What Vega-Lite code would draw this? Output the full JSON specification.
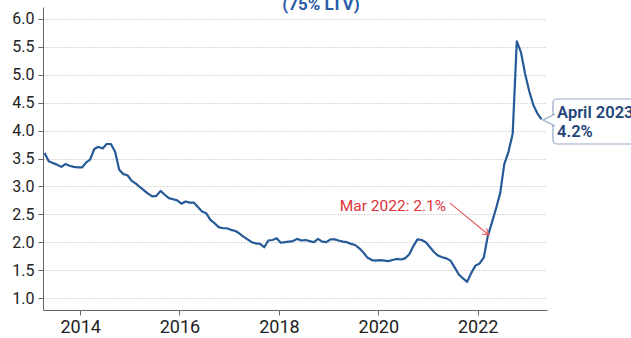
{
  "$schema": "https://vega.github.io/schema/vega-lite/v6.json",
  "width": 504,
  "height": 303,
  "autosize": "none",
  "padding": {"left": 43, "top": 7, "right": 84, "bottom": 28},
  "background": "white",
  "config": {
    "view": {"stroke": null},
    "font": "Roboto"
  },
  "datasets": {
    "rates": [
      {"date": "2013-04-15", "value": 3.60}, {"date": "2013-05-15", "value": 3.45}, {"date": "2013-06-15", "value": 3.42},
      {"date": "2013-07-15", "value": 3.39}, {"date": "2013-08-15", "value": 3.35}, {"date": "2013-09-15", "value": 3.40},
      {"date": "2013-10-15", "value": 3.37}, {"date": "2013-11-15", "value": 3.35}, {"date": "2013-12-15", "value": 3.34},
      {"date": "2014-01-15", "value": 3.34}, {"date": "2014-02-15", "value": 3.43}, {"date": "2014-03-15", "value": 3.48},
      {"date": "2014-04-15", "value": 3.67}, {"date": "2014-05-15", "value": 3.71}, {"date": "2014-06-15", "value": 3.68},
      {"date": "2014-07-15", "value": 3.76}, {"date": "2014-08-15", "value": 3.76}, {"date": "2014-09-15", "value": 3.62},
      {"date": "2014-10-15", "value": 3.30}, {"date": "2014-11-15", "value": 3.22}, {"date": "2014-12-15", "value": 3.20},
      {"date": "2015-01-15", "value": 3.10}, {"date": "2015-02-15", "value": 3.05}, {"date": "2015-03-15", "value": 2.99},
      {"date": "2015-04-15", "value": 2.93}, {"date": "2015-05-15", "value": 2.87}, {"date": "2015-06-15", "value": 2.82},
      {"date": "2015-07-15", "value": 2.83}, {"date": "2015-08-15", "value": 2.92}, {"date": "2015-09-15", "value": 2.85},
      {"date": "2015-10-15", "value": 2.79}, {"date": "2015-11-15", "value": 2.77}, {"date": "2015-12-15", "value": 2.75},
      {"date": "2016-01-15", "value": 2.69}, {"date": "2016-02-15", "value": 2.73}, {"date": "2016-03-15", "value": 2.71},
      {"date": "2016-04-15", "value": 2.71}, {"date": "2016-05-15", "value": 2.63}, {"date": "2016-06-15", "value": 2.55},
      {"date": "2016-07-15", "value": 2.52}, {"date": "2016-08-15", "value": 2.40}, {"date": "2016-09-15", "value": 2.34},
      {"date": "2016-10-15", "value": 2.27}, {"date": "2016-11-15", "value": 2.25}, {"date": "2016-12-15", "value": 2.25},
      {"date": "2017-01-15", "value": 2.22}, {"date": "2017-02-15", "value": 2.20}, {"date": "2017-03-15", "value": 2.16},
      {"date": "2017-04-15", "value": 2.10}, {"date": "2017-05-15", "value": 2.05}, {"date": "2017-06-15", "value": 2.00},
      {"date": "2017-07-15", "value": 1.98}, {"date": "2017-08-15", "value": 1.97}, {"date": "2017-09-15", "value": 1.91},
      {"date": "2017-10-15", "value": 2.03}, {"date": "2017-11-15", "value": 2.04}, {"date": "2017-12-15", "value": 2.07},
      {"date": "2018-01-15", "value": 1.99}, {"date": "2018-02-15", "value": 2.00}, {"date": "2018-03-15", "value": 2.01},
      {"date": "2018-04-15", "value": 2.02}, {"date": "2018-05-15", "value": 2.06}, {"date": "2018-06-15", "value": 2.03},
      {"date": "2018-07-15", "value": 2.04}, {"date": "2018-08-15", "value": 2.02}, {"date": "2018-09-15", "value": 2.00},
      {"date": "2018-10-15", "value": 2.06}, {"date": "2018-11-15", "value": 2.01}, {"date": "2018-12-15", "value": 2.00},
      {"date": "2019-01-15", "value": 2.05}, {"date": "2019-02-15", "value": 2.05}, {"date": "2019-03-15", "value": 2.03},
      {"date": "2019-04-15", "value": 2.01}, {"date": "2019-05-15", "value": 2.00}, {"date": "2019-06-15", "value": 1.97},
      {"date": "2019-07-15", "value": 1.95}, {"date": "2019-08-15", "value": 1.89}, {"date": "2019-09-15", "value": 1.81},
      {"date": "2019-10-15", "value": 1.72}, {"date": "2019-11-15", "value": 1.68}, {"date": "2019-12-15", "value": 1.67},
      {"date": "2020-01-15", "value": 1.68}, {"date": "2020-02-15", "value": 1.67}, {"date": "2020-03-15", "value": 1.66},
      {"date": "2020-04-15", "value": 1.68}, {"date": "2020-05-15", "value": 1.70}, {"date": "2020-06-15", "value": 1.69},
      {"date": "2020-07-15", "value": 1.71}, {"date": "2020-08-15", "value": 1.78}, {"date": "2020-09-15", "value": 1.93},
      {"date": "2020-10-15", "value": 2.05}, {"date": "2020-11-15", "value": 2.04}, {"date": "2020-12-15", "value": 2.00},
      {"date": "2021-01-15", "value": 1.91}, {"date": "2021-02-15", "value": 1.82}, {"date": "2021-03-15", "value": 1.76},
      {"date": "2021-04-15", "value": 1.73}, {"date": "2021-05-15", "value": 1.71}, {"date": "2021-06-15", "value": 1.67},
      {"date": "2021-07-15", "value": 1.55}, {"date": "2021-08-15", "value": 1.42}, {"date": "2021-09-15", "value": 1.35},
      {"date": "2021-10-15", "value": 1.29}, {"date": "2021-11-15", "value": 1.45}, {"date": "2021-12-15", "value": 1.58},
      {"date": "2022-01-15", "value": 1.62}, {"date": "2022-02-15", "value": 1.73}, {"date": "2022-03-15", "value": 2.10},
      {"date": "2022-04-15", "value": 2.35}, {"date": "2022-05-15", "value": 2.60}, {"date": "2022-06-15", "value": 2.88},
      {"date": "2022-07-15", "value": 3.40}, {"date": "2022-08-15", "value": 3.62}, {"date": "2022-09-15", "value": 3.95},
      {"date": "2022-10-15", "value": 5.60}, {"date": "2022-11-15", "value": 5.40}, {"date": "2022-12-15", "value": 5.02},
      {"date": "2023-01-15", "value": 4.70}, {"date": "2023-02-15", "value": 4.45}, {"date": "2023-03-15", "value": 4.31},
      {"date": "2023-04-15", "value": 4.20}
    ],
    "heading": [
      {"date": "2018-11-06", "value": 6.16, "label": "(75% LTV)"}
    ],
    "arrow": [
      {"date": "2021-06-11", "value": 2.70, "date2": "2022-03-24", "value2": 2.13}
    ],
    "arrowhead": [
      {"date": "2022-03-24", "value": 2.13}
    ],
    "redlabel": [
      {"date": "2021-05-14", "value": 2.565, "label": "Mar 2022: 2.1%"}
    ],
    "box": [
      {"date": "2023-07-08", "value": 4.566, "date2": "2025-06-01", "value2": 3.76}
    ],
    "pointer": [
      {"date": "2023-07-08", "value": 4.19}
    ],
    "callout": [
      {"date": "2023-08-07", "value": 4.22, "label": ["April 2023", "4.2%"]}
    ]
  },
  "encoding": {
    "x": {
      "field": "date",
      "type": "temporal",
      "scale": {"domain": ["2013-04-03", "2023-05-25"]},
      "axis": {
        "title": null,
        "values": [{"year": 2014}, {"year": 2016}, {"year": 2018}, {"year": 2020}, {"year": 2022}],
        "format": "%Y",
        "grid": false,
        "labelFontSize": 18,
        "labelColor": "#222222",
        "labelPadding": 3,
        "domainColor": "#666666",
        "tickColor": "#666666",
        "tickSize": 5,
        "labelFlush": false
      }
    },
    "y": {
      "field": "value",
      "type": "quantitative",
      "scale": {"domain": [0.785, 6.215], "nice": false, "zero": false},
      "axis": {
        "title": null,
        "values": [1, 1.5, 2, 2.5, 3, 3.5, 4, 4.5, 5, 5.5, 6],
        "format": ".1f",
        "grid": true,
        "gridColor": "#b5b5b5",
        "gridDash": [1, 2],
        "labelFontSize": 16,
        "labelColor": "#222222",
        "labelPadding": 4,
        "domainColor": "#666666",
        "tickColor": "#666666",
        "tickSize": 5
      }
    }
  },
  "layer": [
    {
      "data": {"name": "rates"},
      "mark": {"type": "line", "color": "#265a97", "strokeWidth": 2.2, "strokeJoin": "round"}
    },
    {
      "data": {"name": "heading"},
      "mark": {"type": "text", "align": "center", "baseline": "alphabetic", "fontSize": 17, "fontWeight": "bold", "color": "#2a5ca8"},
      "encoding": {"text": {"field": "label"}}
    },
    {
      "data": {"name": "arrow"},
      "mark": {"type": "rule", "color": "#e45a5e", "strokeWidth": 1.2},
      "encoding": {"x2": {"field": "date2"}, "y2": {"field": "value2"}}
    },
    {
      "data": {"name": "arrowhead"},
      "mark": {"type": "point", "shape": "M-1,-0.6L0,0L-1,0.6", "size": 144, "angle": 39, "filled": false, "color": "#e45a5e", "strokeWidth": 1.2, "opacity": 1}
    },
    {
      "data": {"name": "redlabel"},
      "mark": {"type": "text", "align": "right", "baseline": "alphabetic", "fontSize": 15.5, "color": "#de3139"},
      "encoding": {"text": {"field": "label"}}
    },
    {
      "data": {"name": "box"},
      "mark": {"type": "rect", "fill": "white", "stroke": "#93a8c6", "strokeWidth": 1.2, "cornerRadius": 4},
      "encoding": {"x2": {"field": "date2"}, "y2": {"field": "value2"}}
    },
    {
      "data": {"name": "pointer"},
      "mark": {"type": "point", "shape": "M0.2,-0.6L-1,0L0.2,0.6", "size": 400, "filled": false, "fill": "white", "fillOpacity": 1, "stroke": "#93a8c6", "strokeWidth": 1.2, "opacity": 1}
    },
    {
      "data": {"name": "callout"},
      "mark": {"type": "text", "align": "left", "baseline": "alphabetic", "fontSize": 16.5, "fontWeight": 600, "color": "#1f4478", "lineHeight": 18.5},
      "encoding": {"text": {"field": "label"}}
    }
  ]
}
